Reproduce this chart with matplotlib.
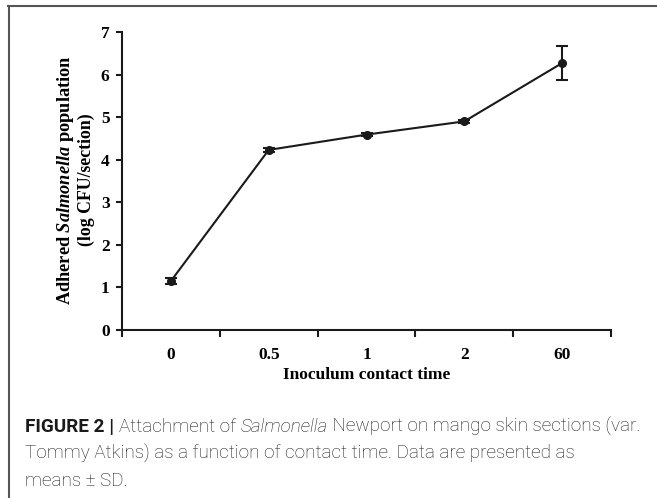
import matplotlib
matplotlib.use("Agg")
import matplotlib.pyplot as plt
from matplotlib.lines import Line2D
from matplotlib.ticker import FixedLocator

categories = ["0", "0.5", "1", "2", "60"]
means = [1.15, 4.23, 4.59, 4.90, 6.27]
sds = [0.07, 0.04, 0.03, 0.03, 0.39]
yticks = [0, 1, 2, 3, 4, 5, 6, 7]

plt.rcParams["mathtext.fontset"] = "custom"
plt.rcParams["mathtext.rm"] = "Liberation Serif"
plt.rcParams["mathtext.it"] = "Liberation Serif:italic"
plt.rcParams["mathtext.bf"] = "Liberation Serif:bold"
plt.rcParams["mathtext.bfit"] = "Liberation Serif:bold:italic"

W, H = 657, 498
fig = plt.figure(figsize=(W / 100, H / 100), dpi=100)
fig.patch.set_facecolor("white")

serif = ["Liberation Serif", "DejaVu Serif"]

ax = fig.add_axes([122 / W, (H - 330) / H, (611 - 122) / W, (330 - 32) / H])
x = list(range(1, len(categories) + 1))
ax.errorbar(x, means, yerr=sds, color="#1a1a1a", lw=1.5, marker="o", ms=5.5,
            capsize=4, elinewidth=1.5, capthick=1.5)
ax.set_xlim(0.5, len(categories) + 0.5)
ax.set_ylim(0, 7)
ax.spines["top"].set_visible(False)
ax.spines["right"].set_visible(False)
for s in ("left", "bottom"):
    ax.spines[s].set_linewidth(1.5)
    ax.spines[s].set_color("#1a1a1a")
ax.set_yticks(yticks)
ax.set_yticklabels([str(t) for t in yticks], fontfamily=serif, fontweight="bold", fontsize=12.5)
ax.set_xticks(x)
ax.set_xticklabels(categories, fontfamily=serif, fontweight="bold", fontsize=12.5)
ax.xaxis.set_minor_locator(FixedLocator([i + 0.5 for i in range(0, len(categories) + 1)]))
ax.tick_params(axis="x", which="major", length=0, pad=12)
ax.tick_params(axis="x", which="minor", length=5, width=1.5, direction="out", color="#1a1a1a")
ax.tick_params(axis="y", which="major", length=4, width=1.5, direction="out", pad=5, color="#1a1a1a")
ax.set_xlabel("Inoculum contact time", fontfamily=serif, fontweight="bold", fontsize=12.5, labelpad=3)

# y label, two lines
fig.text(65 / W, 1 - 180 / H, r"Adhered $\mathbfit{Salmonella}$ population",
         rotation=90, ha="center", va="center", fontfamily=serif, fontweight="bold", fontsize=13.2)
fig.text(86 / W, 1 - 180 / H, "(log CFU/section)",
         rotation=90, ha="center", va="center", fontfamily=serif, fontweight="bold", fontsize=12.8)

# border lines
fig.add_artist(Line2D([8 / W, 1], [1 - 6.5 / H, 1 - 6.5 / H], transform=fig.transFigure, color="#555555", lw=1.5))
fig.add_artist(Line2D([8.5 / W, 8.5 / W], [0, 1 - 6.5 / H], transform=fig.transFigure, color="#555555", lw=1.5))

# caption
cap_font = ["Roboto", "Liberation Sans", "DejaVu Sans"]
fs = 13.6
renderer = fig.canvas.get_renderer()

def run(pieces, x0, y0):
    xx = x0
    for txt, w, st in pieces:
        t = fig.text(xx / W, 1 - y0 / H, txt, fontfamily=cap_font, fontweight=w, fontstyle=st,
                     fontsize=fs, color="#1a1a1a", va="baseline", ha="left")
        bb = t.get_window_extent(renderer=renderer)
        xx = bb.x1

run([("FIGURE 2 | ", "bold", "normal"), ("Attachment of ", "light", "normal"),
     ("Salmonella", "light", "italic"),
     (" Newport on mango skin sections (var.", "light", "normal")], 25, 432)
run([("Tommy Atkins) as a function of contact time. Data are presented as", "light", "normal")], 25, 459)
run([("means \u00b1 SD.", "light", "normal")], 25, 486)

fig.savefig("out.png", dpi=100)
